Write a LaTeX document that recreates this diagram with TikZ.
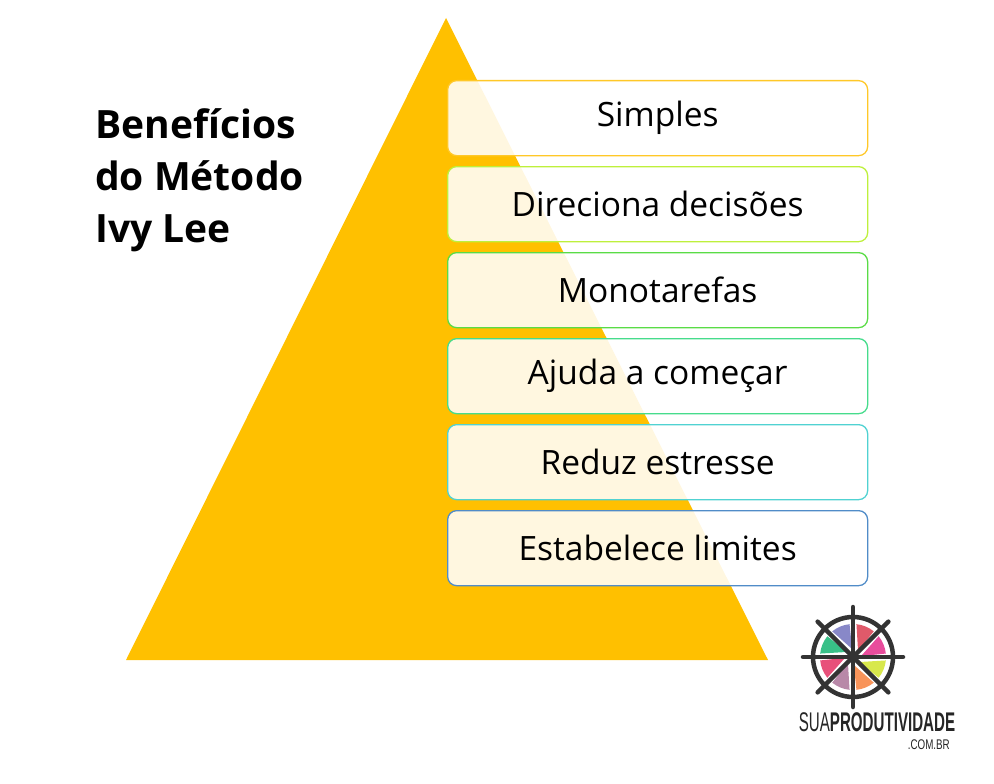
\documentclass[tikz,border=0pt]{standalone}
\usepackage{fontspec}
\setmainfont{Open Sans}
\newfontfamily\titlefont{Open Sans}
\newfontfamily\logofont{Liberation Sans}
\definecolor{tri}{RGB}{255,192,0}
\definecolor{c1}{RGB}{255,200,40}
\definecolor{c2}{RGB}{190,240,60}
\definecolor{c3}{RGB}{90,220,70}
\definecolor{c4}{RGB}{70,220,140}
\definecolor{c5}{RGB}{80,210,210}
\definecolor{c6}{RGB}{80,140,200}
\definecolor{s1}{RGB}{224,90,106}
\definecolor{s2}{RGB}{232,76,156}
\definecolor{s3}{RGB}{216,232,76}
\definecolor{s4}{RGB}{248,148,90}
\definecolor{s5}{RGB}{184,136,168}
\definecolor{s6}{RGB}{232,80,122}
\definecolor{s7}{RGB}{56,192,136}
\definecolor{s8}{RGB}{136,136,200}
\begin{document}
\begin{tikzpicture}[x=1pt,y=-1pt,
  box/.style={draw=#1,line width=1.3pt,fill=white,fill opacity=0.88,text opacity=1,rounded corners=9pt,minimum width=420pt,minimum height=75pt,inner sep=0pt,font=\fontsize{33.5}{36}\selectfont},
  spoke/.style={draw=black!80,line width=4.5pt,line cap=round}]
\useasboundingbox (0,0) rectangle (994,784);
\fill[white] (0,0) rectangle (994,784);
\fill[tri] (446,18) -- (768,660) -- (126,660) -- cycle;
\node[anchor=north west,align=left,font=\titlefont\bfseries\fontsize{39}{52}\selectfont,inner sep=0pt] (title) at (95,108) {Benefícios\\do Método\\Ivy Lee};
\node[box=c1,anchor=north west] (b1) at (447,80) {Simples};
\node[box=c2,anchor=north west] (b2) at (447,166) {Direciona decisões};
\node[box=c3,anchor=north west] (b3) at (447,252) {Monotarefas};
\node[box=c4,anchor=north west] (b4) at (447,338) {Ajuda a começar};
\node[box=c5,anchor=north west] (b5) at (447,424) {Reduz estresse};
\node[box=c6,anchor=north west] (b6) at (447,510) {Estabelece limites};
% logo
\coordinate (lc) at (853,657);
\foreach \a/\c in {45/s1,0/s2,-45/s3,-90/s4,-135/s5,180/s6,135/s7,90/s8}
  \fill[\c] (lc) ++(\a+6:8pt) -- ++(\a+6:25pt) arc[start angle=\a+6,end angle=\a+39,radius=33pt] -- cycle;
\draw[black!80,line width=4.5pt] (lc) circle[radius=40pt];
\foreach \a in {0,45,...,315} \draw[spoke] (lc) -- ++(\a:50pt);
\node[inner sep=0pt,text=black!85] (logo) at (877,722) {\scalebox{0.56}[1]{\logofont\fontsize{27}{27}\selectfont SUA\textbf{PRODUTIVIDADE}}};
\node[inner sep=0pt,anchor=east,text=black!85] (com) at (950,745) {\scalebox{0.7}[1]{\logofont\fontsize{14}{14}\selectfont .COM.BR}};
\end{tikzpicture}
\end{document}
